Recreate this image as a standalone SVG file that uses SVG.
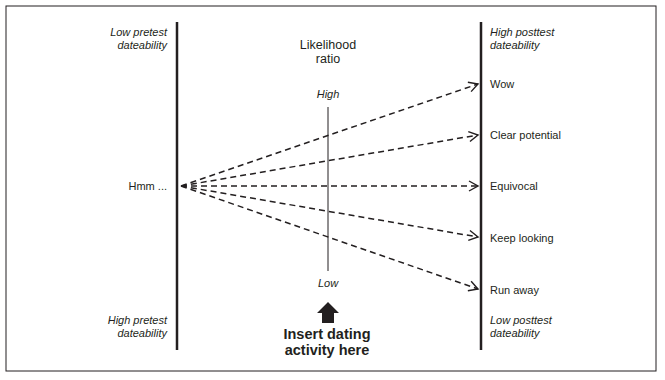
<svg xmlns="http://www.w3.org/2000/svg" width="665" height="380" viewBox="0 0 665 380">
<defs>
<marker id="chev" markerWidth="12" markerHeight="12" refX="10" refY="6" orient="auto" markerUnits="userSpaceOnUse">
<path d="M1,1 L10,6 L1,11" fill="none" stroke="#231f20" stroke-width="1.4"/>
</marker>
<style>
text{font-family:"Liberation Sans",Arial,sans-serif;font-size:11px;fill:#231f20}
.it{font-style:italic}
.r{text-anchor:end}
.m{text-anchor:middle}
.b{font-weight:bold;font-size:14.5px}
.ax{stroke:#231f20;stroke-width:2.5}
.dash{fill:none;stroke:#231f20;stroke-width:1.5;stroke-dasharray:6 4;marker-end:url(#chev)}
</style>
</defs>
<rect width="665" height="380" fill="#fff"/>
<rect x="6" y="6" width="650" height="365" fill="none" stroke="#231f20" stroke-width="1"/>
<g id="axes">
<line class="ax" x1="177" y1="22" x2="177" y2="350"/>
<line class="ax" x1="481" y1="22" x2="481" y2="350"/>
<line x1="328" y1="107" x2="328" y2="271" stroke="#231f20" stroke-width="1"/>
</g>
<g id="connectors">
<path class="dash" d="M181,186 L478,84"/>
<path class="dash" d="M181,186 L478,135"/>
<path class="dash" d="M181,186 L478,186"/>
<path class="dash" d="M181,186 L478,237"/>
<path class="dash" d="M181,186 L478,289"/>
</g>
<g id="left-labels">
<text class="it r" x="167" y="36">Low pretest</text>
<text class="it r" x="167" y="49">dateability</text>
<text class="r" x="167" y="190">Hmm ...</text>
<text class="it r" x="167" y="324">High pretest</text>
<text class="it r" x="167" y="337">dateability</text>
</g>
<g id="ratio">
<text class="m" x="328" y="49" style="font-size:12.5px">Likelihood</text>
<text class="m" x="328" y="63" style="font-size:12.5px">ratio</text>
<text class="it m" x="328" y="98">High</text>
<text class="it m" x="328" y="287">Low</text>
</g>
<g id="activity">
<path d="M328,302 L339,313 L334,313 L334,323 L322,323 L322,313 L317,313 Z" fill="#231f20"/>
<text class="b m" x="327" y="339">Insert dating</text>
<text class="b m" x="327" y="355">activity here</text>
</g>
<g id="right-labels">
<text class="it" x="490" y="36">High posttest</text>
<text class="it" x="490" y="49">dateability</text>
<text x="490" y="88">Wow</text>
<text x="490" y="139">Clear potential</text>
<text x="490" y="190">Equivocal</text>
<text x="490" y="242">Keep looking</text>
<text x="490" y="294">Run away</text>
<text class="it" x="490" y="324">Low posttest</text>
<text class="it" x="490" y="337">dateability</text>
</g>
</svg>
